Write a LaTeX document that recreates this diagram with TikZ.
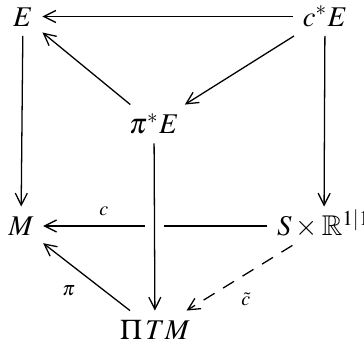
\documentclass[tikz,border=0pt]{standalone}
\usepackage{amssymb}
\usepackage{mathptmx}
\usetikzlibrary{arrows.meta}

\begin{document}
\begin{tikzpicture}[x=0.35pt,y=-0.35pt,
  objeto/.style={inner sep=3.2pt,text height=0.68em,text depth=0pt},
  flecha/.style={-{Straight Barb[length=4.2pt,width=4.2pt]},line width=0.45pt},
  etiqueta/.style={font=\scriptsize,inner sep=3.2pt}]
  \useasboundingbox (0,0) rectangle (364,345);
  \node[objeto] (e)   at (23,16.5)  {$E$};
  \node[objeto] (ce)  at (325,16.5) {$c^*E$};
  \node[objeto] (pe)  at (154,124)  {$\pi^*E$};
  \node[objeto] (m)   at (21,226)   {$M$};
  \node[objeto] (sr)  at (324,226)  {$S\times\mathbb{R}^{1|1}$};
  \node[objeto] (ptm) at (155,330)  {$\Pi\,TM$};
  \draw[flecha] (ce) -- (e);
  \draw[flecha] (ce) -- (pe);
  \draw[flecha] (pe) -- (e);
  \draw[flecha] (e) -- (m);
  \draw[flecha] (ce) -- (sr);
  \draw[flecha] (sr) -- node[etiqueta,pos=0.73,above] {$c$} (m);
  \draw[flecha,preaction={draw=white,line width=6.6pt,-}] (pe) -- (ptm);
  \draw[flecha] (ptm) -- node[etiqueta,pos=0.52,below left] {$\pi$} (m);
  \draw[flecha,dash pattern=on 4.5pt off 3.5pt] (sr) -- node[etiqueta,pos=0.575,below right] {$\tilde{c}$} (ptm);
\end{tikzpicture}
\end{document}
